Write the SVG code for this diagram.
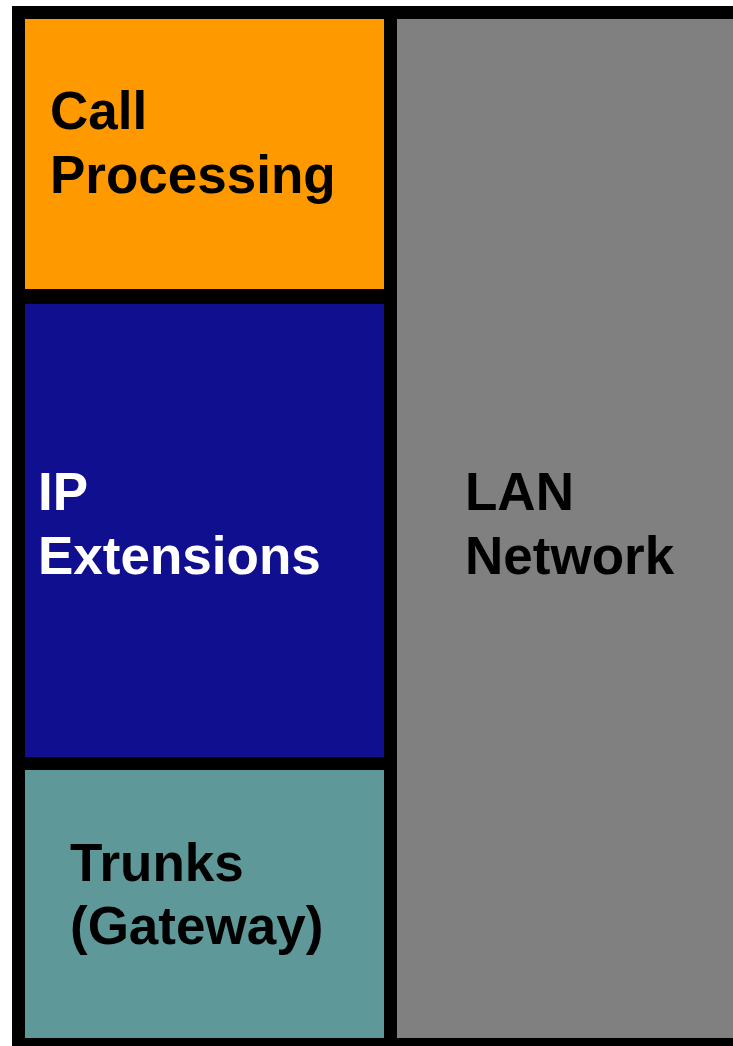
<svg xmlns="http://www.w3.org/2000/svg" width="733" height="1046" viewBox="0 0 733 1046">
<style>
.t{font-family:"Liberation Sans",Arial,sans-serif;font-weight:bold;font-size:53px}
.k{fill:#000}
.w{fill:#fff}
</style>
<rect x="0" y="0" width="733" height="1046" fill="#fff"/>
<rect x="12" y="6" width="721" height="1040" fill="#000"/>
<g id="call-processing">
<rect x="25" y="19" width="359" height="270" fill="#FF9900"/>
<text class="t k" x="50" y="129">Call</text>
<text class="t k" x="50" y="193">Processing</text>
</g>
<g id="ip-extensions">
<rect x="25" y="304" width="359" height="453" fill="#0F0F8F"/>
<text class="t w" x="38" y="510">IP</text>
<text class="t w" x="38" y="574">Extensions</text>
</g>
<g id="trunks">
<rect x="25" y="770" width="359" height="268" fill="#5F9898"/>
<text class="t k" x="70" y="881">Trunks</text>
<text class="t k" x="70" y="944">(Gateway)</text>
</g>
<g id="lan-network">
<rect x="397" y="19" width="336" height="1019" fill="#808080"/>
<text class="t k" x="465" y="510">LAN</text>
<text class="t k" x="465" y="574">Network</text>
</g>
<g id="connectors"></g>
</svg>
